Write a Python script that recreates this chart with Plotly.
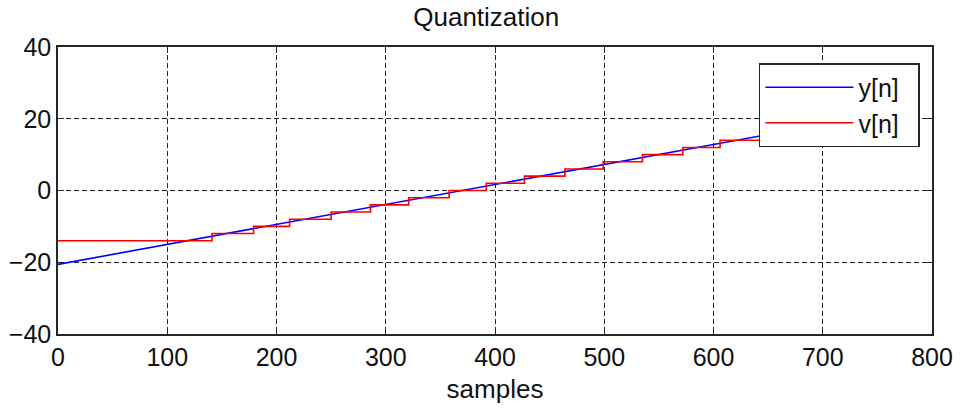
import plotly.graph_objects as go

# ---- data ----
y_n = [0, 720]                 # input ramp y[n] (sample index)
y_vals = [-20.6, 19.5]         # ramp values at those samples

v_n = [0, 141, 179, 212, 250, 286, 321, 358, 392, 427, 464, 499, 535, 572, 606, 720]
v_vals = [-14, -12, -10, -8, -6, -4, -2, 0, 2, 4, 6, 8, 10, 12, 14, 14]

x_ticks = [0, 100, 200, 300, 400, 500, 600, 700, 800]
y_ticks = [-40, -20, 0, 20, 40]

FONT = "Liberation Sans, Arial, Helvetica, sans-serif"
NB = "\u00a0"

fig = go.Figure()
fig.add_trace(go.Scatter(x=y_n, y=y_vals, mode="lines", name="y[n]" + NB * 2,
                         line=dict(color="#0000FF", width=1.6)))
fig.add_trace(go.Scatter(x=v_n, y=v_vals, mode="lines", name="v[n]" + NB * 2,
                         line=dict(color="#FF0000", width=1.6, shape="hv")))

axis_common = dict(
    showline=True, linecolor="#262626", linewidth=1.5, mirror="ticks",
    ticks="inside", ticklen=6, tickcolor="#262626", tickwidth=1,
    showgrid=True, gridcolor="#222222", gridwidth=1, griddash="5px,3px",
    zeroline=False, tickfont=dict(family=FONT, size=25, color="#111"),
)

fig.update_xaxes(range=[0, 800], tickvals=x_ticks,
                 title=dict(text="samples", font=dict(family=FONT, size=26, color="#111"), standoff=10),
                 **axis_common)
fig.update_yaxes(range=[-40, 40], tickvals=y_ticks, **axis_common)

fig.update_layout(
    width=962, height=409,
    margin=dict(l=58, r=30, t=47, b=75, autoexpand=False),
    paper_bgcolor="white", plot_bgcolor="white",
    title=dict(text="Quantization", x=0.49, xref="paper", xanchor="center",
               y=1 - 17 / 409, yref="container", yanchor="middle",
               font=dict(family=FONT, size=26, color="#111")),
    legend=dict(x=0.802, y=0.944, xanchor="left", yanchor="top",
                bgcolor="white", bordercolor="#262626", borderwidth=1.5,
                font=dict(family=FONT, size=25, color="#111"),
                itemwidth=88, tracegroupgap=0),
    showlegend=True,
)

fig.write_html("out.html", config={"displayModeBar": False},
               post_script="document.body.style.margin='0px';")
